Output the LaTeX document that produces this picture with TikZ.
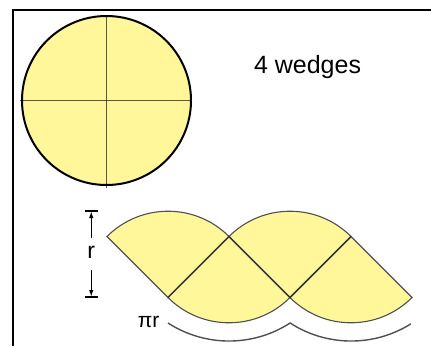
\documentclass[tikz,border=0pt]{standalone}
\usepackage{fontspec}
\setmainfont{Liberation Sans}
\usetikzlibrary{arrows.meta}
\definecolor{wedgefill}{RGB}{255,247,154}
\definecolor{edgegray}{RGB}{80,80,80}
\definecolor{crossgray}{RGB}{50,50,50}
\begin{document}
\begin{tikzpicture}[x=1pt,y=-1pt,
  frameline/.style={line width=2pt,black},
  wedgeshape/.style={fill=wedgefill,draw=edgegray,line width=1.1pt},
  innerline/.style={draw=crossgray,line width=1.4pt},
  crossline/.style={draw=crossgray,line width=1.5pt,opacity=0.8},
  dimline/.style={line width=1.4pt,black},
  dimarrow/.style={line width=1.3pt,black,-{Latex[length=7pt,width=4.5pt]}},
  bracecurve/.style={draw=edgegray,line width=1.4pt}]
\useasboundingbox (0,0) rectangle (431,346);
% frame
\coordinate (fl) at (13,346);
\coordinate (fc) at (13,10);
\coordinate (fr) at (431,10);
\draw[frameline] (fl) -- (fc) -- (fr);
% circle
\coordinate (cc) at (106.5,100.5);
\fill[wedgefill] (cc) circle[radius=84.5];
\coordinate (vt) at (106.5,16);
\coordinate (vb) at (106.5,188);
\coordinate (hl) at (20,100.5);
\coordinate (hr) at (192,100.5);
\draw[crossline] (vt) -- (vb);
\draw[crossline] (hl) -- (hr);
\draw[line width=2pt,black] (cc) circle[radius=84.5];
\node[anchor=base west,font=\fontsize{25}{30}\selectfont] (lab) at (250.5,73) {4 wedges};
% wedges
\def\rr{86.3}
\coordinate (tl) at (107,236.5);
\coordinate (A) at (229,236.5);
\coordinate (D) at (351,236.5);
\coordinate (B) at (168,297.5);
\coordinate (C) at (290,297.5);
\coordinate (tr) at (412,297.5);
\path[wedgeshape] (B) -- (tl) arc[start angle=225,end angle=315,radius=\rr] -- cycle;
\path[wedgeshape] (A) -- (C) arc[start angle=45,end angle=135,radius=\rr] -- cycle;
\path[wedgeshape] (C) -- (A) arc[start angle=225,end angle=315,radius=\rr] -- cycle;
\path[wedgeshape] (D) -- (tr) arc[start angle=45,end angle=135,radius=\rr] -- cycle;
\draw[innerline] (B) -- (A) -- (C) -- (D);
% r dimension
\coordinate (rt1) at (84.5,211);
\coordinate (rt2) at (98,211);
\coordinate (rb1) at (84.5,297);
\coordinate (rb2) at (98,297);
\coordinate (rtop) at (91.25,211);
\coordinate (rbot) at (91.25,297);
\draw[dimline] (rt1) -- (rt2);
\draw[dimline] (rb1) -- (rb2);
\node[font=\fontsize{23}{28}\selectfont,inner sep=0pt] (rlab) at (91.25,252) {r};
\coordinate (ra1) at (91.25,238);
\coordinate (ra2) at (91.25,270);
\draw[dimarrow] (ra1) -- (rtop);
\draw[dimarrow] (ra2) -- (rbot);
% pi r brace
\node[font=\fontsize{21}{25}\selectfont,inner sep=0pt] (pilab) at (148.5,322) {πr};
\coordinate (b1) at (168,323);
\coordinate (b2) at (290,323);
\draw[bracecurve] (b1) arc[start angle=122.9,end angle=57.1,radius=112.4]
  arc[start angle=122.9,end angle=57.9,radius=112.4];
\end{tikzpicture}
\end{document}
